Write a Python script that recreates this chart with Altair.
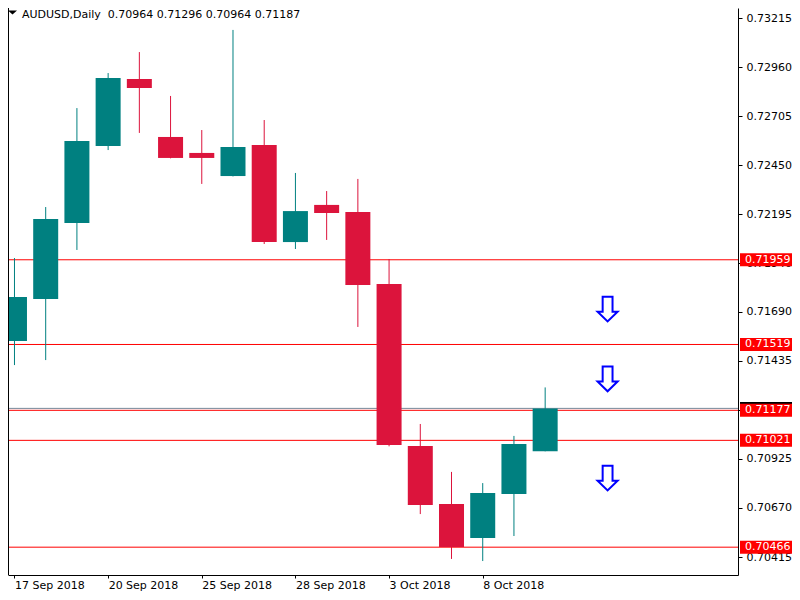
import altair as alt
import pandas as pd

# ---------------- data ----------------
dates = ["17 Sep 2018", "18 Sep 2018", "19 Sep 2018", "20 Sep 2018", "21 Sep 2018",
         "24 Sep 2018", "25 Sep 2018", "26 Sep 2018", "27 Sep 2018", "28 Sep 2018",
         "1 Oct 2018", "2 Oct 2018", "3 Oct 2018", "4 Oct 2018", "5 Oct 2018",
         "8 Oct 2018", "9 Oct 2018", "10 Oct 2018"]
opens = [0.71537, 0.71755, 0.72150, 0.72550, 0.72898, 0.72597, 0.72514, 0.72394, 0.72555,
         0.72051, 0.72244, 0.72207, 0.71833, 0.70992, 0.70690, 0.70514, 0.70742, 0.70964]
highs = [0.71968, 0.72233, 0.72747, 0.72929, 0.73038, 0.72810, 0.72633, 0.73153, 0.72685,
         0.72410, 0.72316, 0.72379, 0.71963, 0.71106, 0.70857, 0.70799, 0.71044, 0.71296]
lows = [0.71412, 0.71438, 0.72010, 0.72529, 0.72618, 0.72486, 0.72353, 0.72392, 0.72041,
        0.72015, 0.72062, 0.71610, 0.70990, 0.70638, 0.70405, 0.70394, 0.70524, 0.70964]
closes = [0.71766, 0.72171, 0.72576, 0.72903, 0.72851, 0.72488, 0.72488, 0.72545, 0.72051,
          0.72212, 0.72202, 0.71828, 0.70997, 0.70685, 0.70467, 0.70748, 0.71002, 0.71187]

tick_idx = [0, 3, 6, 9, 12, 15]
tick_labels = ["17 Sep 2018", "20 Sep 2018", "25 Sep 2018", "28 Sep 2018", "3 Oct 2018", "8 Oct 2018"]
price_ticks = [0.73215, 0.72960, 0.72705, 0.72450, 0.72195, 0.71940, 0.71690, 0.71435,
               0.71180, 0.70925, 0.70670, 0.70415]
levels = [0.71959, 0.71519, 0.71177, 0.71021, 0.70466]
bid = [0.71187]
arrow_idx = [19, 19, 19]
arrow_prices = [0.71703, 0.71340, 0.70825]
title_text = "AUDUSD,Daily \u00a00.70964 0.71296 0.70964 0.71187"

# ---------------- layout ----------------
W, H = 730, 567
PX = 31.65
x_dom = [-1.5 / PX, -1.5 / PX + W / PX]
y_dom = [0.73215 - 557 / 19250, 0.73215 + 10 / 19250]
FONT = "DejaVu Sans"
TEAL = "#008080"
CRIMSON = "#DC143C"

candles = pd.DataFrame({
    "i": list(range(len(dates))), "date": dates,
    "open": opens, "high": highs, "low": lows, "close": closes,
})
candles["dir"] = ["up" if c >= o else "down" for o, c in zip(opens, closes)]

xs = alt.Scale(domain=x_dom, nice=False, zero=False)
ys = alt.Scale(domain=y_dom, nice=False, zero=False)

label_expr = " : ".join(
    f"datum.value == {i} ? '{t}'" for i, t in zip(tick_idx, tick_labels)
) + " : ''"

x_axis = alt.Axis(values=tick_idx, labelExpr=label_expr, title=None, orient="bottom",
                  labelAlign="left", labelFlush=False, labelOverlap=False,
                  tickSize=3, labelPadding=1, grid=False)
y_axis = alt.Axis(values=price_ticks, format=".5f", title=None, orient="right",
                  tickSize=4, labelPadding=4, labelFlush=False, labelOverlap=False,
                  grid=False)

color = alt.Color("dir:N", scale=alt.Scale(domain=["up", "down"], range=[TEAL, CRIMSON]),
                  legend=None)

base = alt.Chart(candles)

wicks = base.mark_rule(strokeWidth=1, clip=True).encode(
    x=alt.X("i:Q", scale=xs, axis=x_axis),
    y=alt.Y("low:Q", scale=ys, axis=y_axis),
    y2="high:Q",
    color=color,
)
bodies = base.mark_bar(size=25, clip=True).encode(
    x=alt.X("i:Q", scale=xs),
    y=alt.Y("open:Q", scale=ys),
    y2="close:Q",
    color=color,
)

lvl_df = pd.DataFrame({"level": levels})
lvl_lines = alt.Chart(lvl_df).mark_rule(color="#FF0000", strokeWidth=1).encode(
    y=alt.Y("level:Q", scale=ys), x=alt.value(0), x2=alt.value(W))

bid_df = pd.DataFrame({"bid": bid})
bid_line = alt.Chart(bid_df).mark_rule(color="#778899", strokeWidth=1).encode(
    y=alt.Y("bid:Q", scale=ys), x=alt.value(0), x2=alt.value(W))

border = alt.Chart(bid_df).mark_rule(color="#000000", strokeWidth=1).encode(
    x=alt.value(0.5), y=alt.value(0), y2=alt.value(H))

ARROW = "M -0.40 -1 L 0.40 -1 L 0.40 0.21 L 0.81 0.21 L 0 1 L -0.81 0.21 L -0.40 0.21 Z"
arr_df = pd.DataFrame({"i": arrow_idx, "p": arrow_prices})
arrows = alt.Chart(arr_df).mark_point(shape=ARROW, filled=False, stroke="#0000FF",
                                      strokeWidth=2, size=610, opacity=1).encode(
    x=alt.X("i:Q", scale=xs), y=alt.Y("p:Q", scale=ys))

BOX = "M -1 -0.25 L 1 -0.25 L 1 0.25 L -1 0.25 Z"
bid_box = alt.Chart(bid_df).mark_point(shape=BOX, filled=True, fill="#000000",
                                       strokeWidth=0, size=2704, opacity=1).encode(
    x=alt.value(W + 28), y=alt.Y("bid:Q", scale=ys))
lvl_boxes = alt.Chart(lvl_df).mark_point(shape=BOX, filled=True, fill="#FF0000",
                                         strokeWidth=0, size=2704, opacity=1).encode(
    x=alt.value(W + 28), y=alt.Y("level:Q", scale=ys))
lvl_text = alt.Chart(lvl_df).mark_text(align="left", baseline="middle", font=FONT,
                                       fontSize=11, color="#FFFFFF").encode(
    x=alt.value(W + 7), y=alt.Y("level:Q", scale=ys),
    text=alt.Text("level:Q", format=".5f"))

one = pd.DataFrame({"t": [title_text]})
tri = alt.Chart(one).mark_point(shape="M -1 -0.45 L 1 -0.45 L 0 0.45 Z", filled=True,
                                fill="#000000", strokeWidth=0, size=81, opacity=1).encode(
    x=alt.value(4.5), y=alt.value(4.5))
title = alt.Chart(one).mark_text(align="left", baseline="alphabetic", font=FONT,
                                 fontSize=11, color="#000000").encode(
    x=alt.value(14), y=alt.value(9.5), text="t:N")

chart = alt.layer(
    lvl_lines, bid_line, wicks, bodies, border, arrows, bid_box, lvl_boxes, lvl_text, tri, title
).properties(
    width=W, height=H,
    autosize=alt.AutoSizeParams(type="none"),
    padding={"left": 0, "top": 0, "right": 54, "bottom": 17},
    background="#FFFFFF",
).configure_view(
    strokeWidth=0
).configure_axis(
    domainColor="#000000", tickColor="#000000", labelColor="#000000",
    labelFont=FONT, labelFontSize=11, domainWidth=1, tickWidth=1, zindex=0,
)

chart.save("out.html", embed_options={"renderer": "svg", "actions": False})
